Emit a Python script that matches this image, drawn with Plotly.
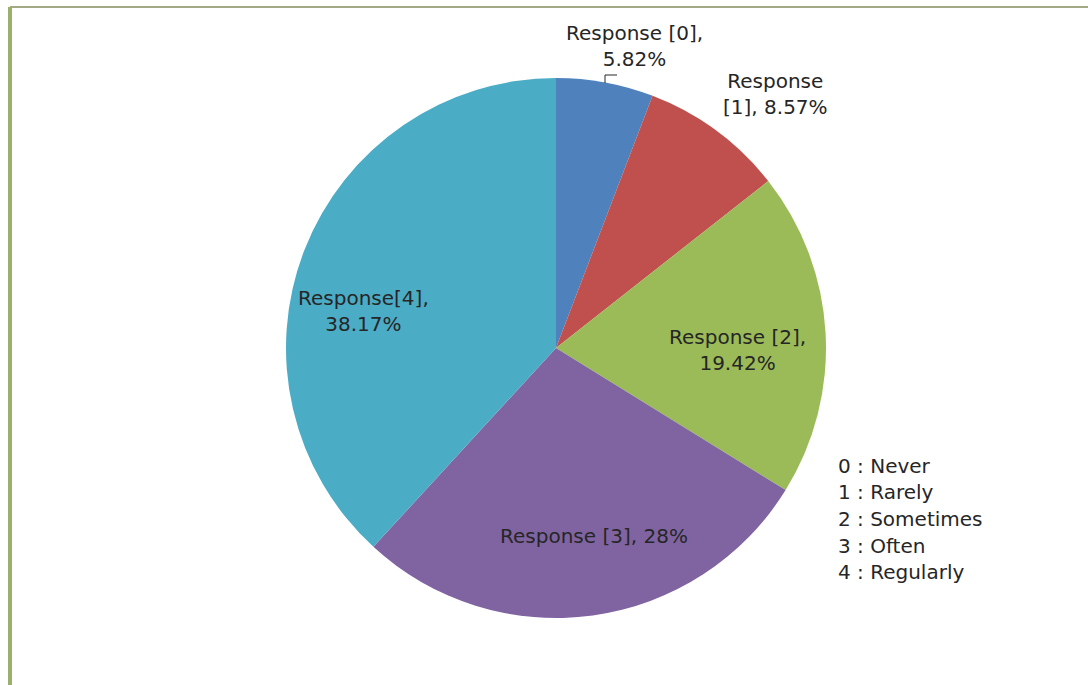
import plotly.graph_objects as go

categories = ["Response [0]", "Response [1]", "Response [2]", "Response [3]", "Response[4]"]
values = [5.82, 8.57, 19.42, 28, 38.17]
colors = ["#4F81BD", "#C0504D", "#9BBB59", "#8064A2", "#4BACC6"]
legend_lines = ["0 : Never", "1 : Rarely", "2 : Sometimes", "3 : Often", "4 : Regularly"]

W, H = 1088, 685
cx, cy, R = 556, 348, 270

fig = go.Figure(go.Pie(
    labels=categories, values=values, sort=False, direction="clockwise",
    rotation=0, marker=dict(colors=colors, line=dict(width=0)),
    textinfo="none", hoverinfo="label+value", showlegend=False,
    domain=dict(x=[(cx - R) / W, (cx + R) / W], y=[(H - cy - R) / H, (H - cy + R) / H]),
))

def pct(v):
    return f"{v:g}%"

label_texts = [
    f"{categories[0]},<br>{pct(values[0])}",
    "Response<br>" + categories[1].replace("Response ", "") + f", {pct(values[1])}",
    f"{categories[2]},<br>{pct(values[2])}",
    f"{categories[3]}, {pct(values[3])}",
    f"{categories[4]},<br>{pct(values[4])}",
]
label_pos = [(634, 46), (775, 94), (737, 350), (594, 536), (363, 311)]

font = dict(family="DejaVu Sans", size=20, color="#262626")
for t, (px, py) in zip(label_texts, label_pos):
    fig.add_annotation(text=t, x=px / W, y=1 - py / H, xref="paper", yref="paper",
                       showarrow=False, font=font, align="center",
                       xanchor="center", yanchor="middle")

for i, t in enumerate(legend_lines):
    fig.add_annotation(text=t, x=836 / W, y=1 - (466 + i * 26.5) / H, xref="paper", yref="paper",
                       showarrow=False, font=font, align="left",
                       xanchor="left", yanchor="middle")

shapes = [
    # frame
    dict(type="line", xref="paper", yref="paper", x0=10 / W, x1=1, y0=1 - 7 / H, y1=1 - 7 / H,
         line=dict(color="#A3A985", width=2)),
    dict(type="line", xref="paper", yref="paper", x0=10 / W, x1=10 / W, y0=0, y1=1 - 7 / H,
         line=dict(color="#9BB06A", width=4)),
    # leader line for label 0
    dict(type="path", xref="paper", yref="paper",
         path=f"M {605 / W},{1 - 83 / H} L {605 / W},{1 - 75 / H} L {617 / W},{1 - 75 / H}",
         line=dict(color="#262626", width=1)),
]
fig.update_layout(width=W, height=H, margin=dict(l=0, r=0, t=0, b=0),
                  paper_bgcolor="white", plot_bgcolor="white", shapes=shapes)

fig.write_html("out.html", config={"displayModeBar": False},
               post_script="document.body.style.margin='0';")
